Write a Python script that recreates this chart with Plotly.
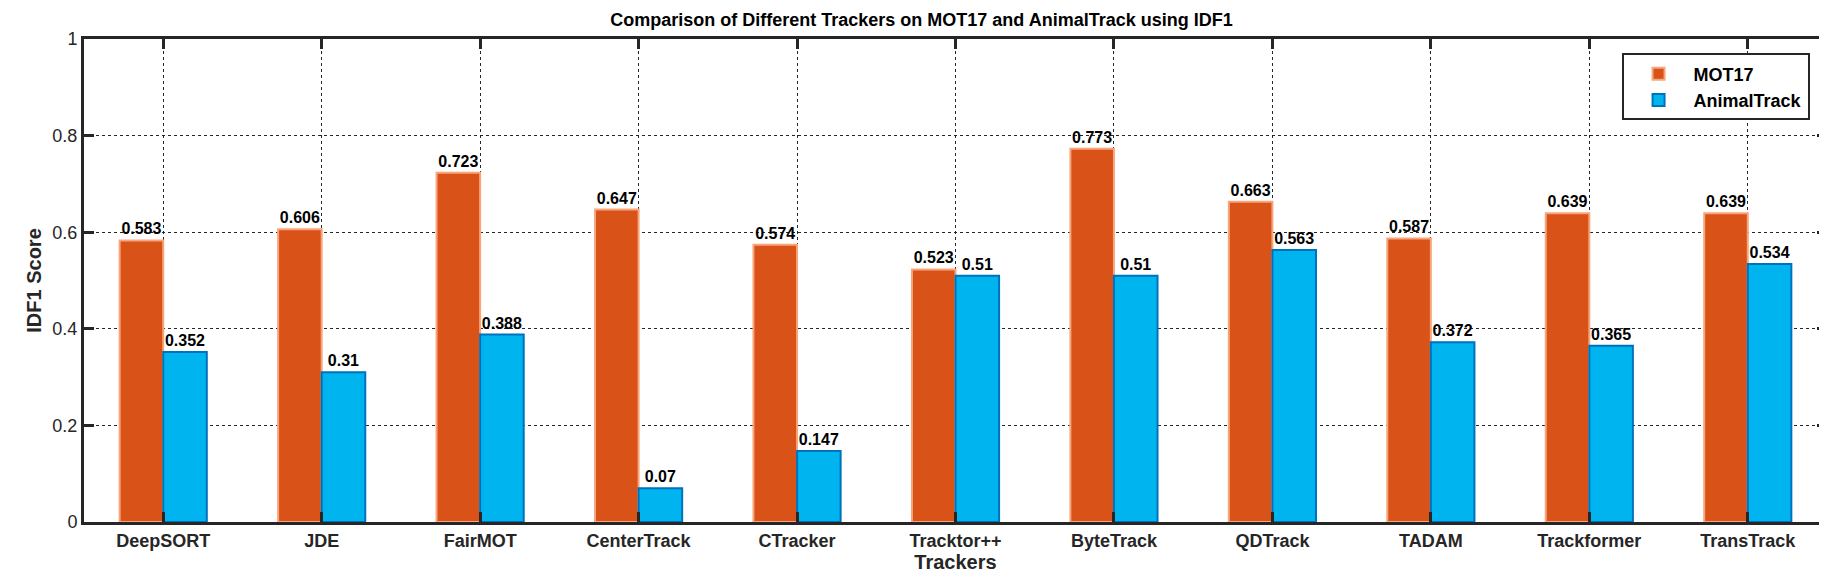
import plotly.graph_objects as go

trackers = ["DeepSORT", "JDE", "FairMOT", "CenterTrack", "CTracker", "Tracktor++",
            "ByteTrack", "QDTrack", "TADAM", "Trackformer", "TransTrack"]
mot17 = [0.583, 0.606, 0.723, 0.647, 0.574, 0.523, 0.773, 0.663, 0.587, 0.639, 0.639]
animaltrack = [0.352, 0.31, 0.388, 0.07, 0.147, 0.51, 0.51, 0.563, 0.372, 0.365, 0.534]

FONT = "Liberation Sans, Arial, sans-serif"

fig = go.Figure()
fig.add_bar(x=trackers, y=mot17, name="<b>MOT17</b>",
            marker=dict(color="#D95319", line=dict(color="#F8A57C", width=2)),
            text=[f"{v:g}" for v in mot17], textposition="outside", cliponaxis=False,
            textfont=dict(family=FONT, size=16, color="black"))
fig.add_bar(x=trackers, y=animaltrack, name="<b>AnimalTrack</b>",
            marker=dict(color="#00B4EF", line=dict(color="#0072BD", width=2)),
            text=[f"{v:g}" for v in animaltrack], textposition="outside", cliponaxis=False,
            textfont=dict(family=FONT, size=16, color="black"))

axis_common = dict(showline=True, linecolor="#262626", linewidth=3, mirror="ticks",
                   ticks="inside", ticklen=10, tickwidth=3, tickcolor="#262626",
                   showgrid=True, gridcolor="#262626", griddash="dot", gridwidth=1,
                   tickfont=dict(family=FONT, size=18, color="#262626"),
                   zeroline=False)

fig.update_layout(
    width=1827, height=582,
    margin=dict(l=76, r=5, t=31, b=68),
    plot_bgcolor="white", paper_bgcolor="white",
    barmode="group", bargap=0.45, bargroupgap=0.0,
    title=dict(text="<b>Comparison of Different Trackers on MOT17 and AnimalTrack using IDF1</b>",
               x=0.5, xanchor="center", y=0.99, yanchor="top",
               font=dict(family=FONT, size=18, color="black")),
    font=dict(family=FONT, color="#262626"),
    legend=dict(x=0.99, xanchor="right", y=0.97, yanchor="top",
                bordercolor="#262626", borderwidth=2, bgcolor="white",
                font=dict(family=FONT, size=18, color="black"),
                itemwidth=60, tracegroupgap=0, itemsizing="constant"),
)
fig.update_xaxes(**axis_common, range=[-0.5, 10.5],
                 tickprefix="<b>", ticksuffix="</b>",
                 title=dict(text="<b>Trackers</b>", font=dict(family=FONT, size=20, color="#262626"),
                            standoff=6))
fig.update_yaxes(**axis_common, range=[0, 1],
                 tickvals=[0, 0.2, 0.4, 0.6, 0.8, 1], ticktext=["0", "0.2", "0.4", "0.6", "0.8", "1"],
                 tickprefix="<b>", ticksuffix="</b>",
                 title=dict(text="<b>IDF1 Score</b>", font=dict(family=FONT, size=20, color="#262626"),
                            standoff=6))
fig.update_traces(texttemplate="<b>%{text}</b>")

fig.write_html("out.html")
